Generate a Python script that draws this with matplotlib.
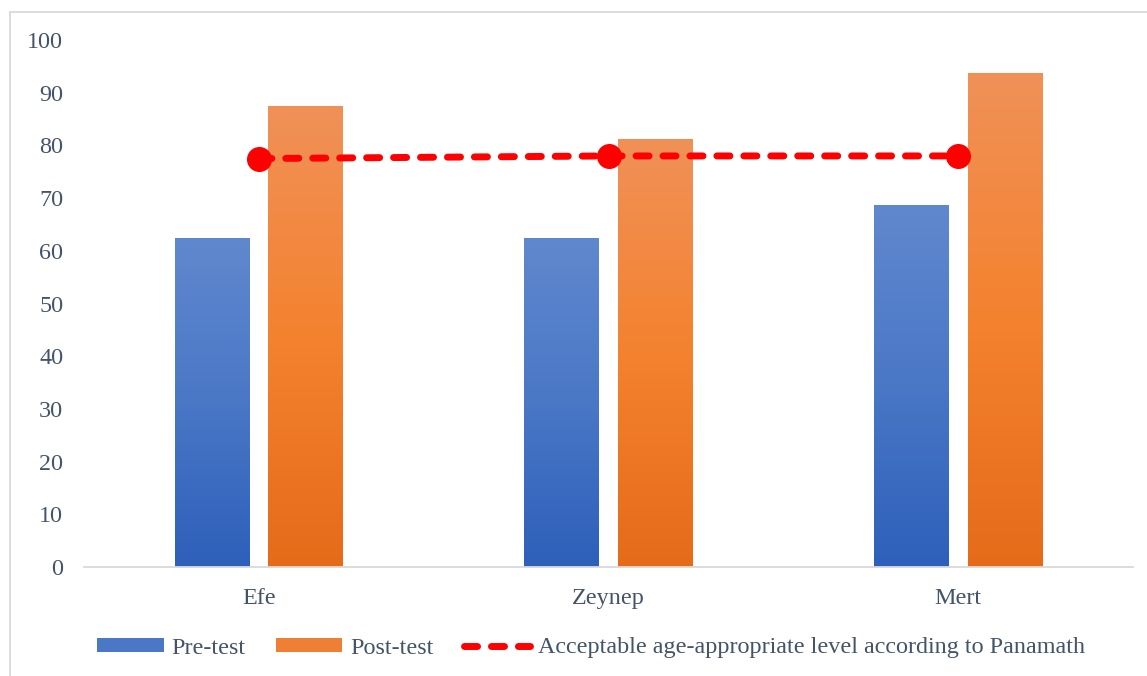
import matplotlib
matplotlib.use('Agg')
import matplotlib.pyplot as plt
import numpy as np
from matplotlib.colors import LinearSegmentedColormap
from matplotlib.lines import Line2D
from matplotlib.patches import Patch, Rectangle

# data
students = ['Efe', 'Zeynep', 'Mert']
pre_test = [62.5, 62.5, 68.75]
post_test = [87.5, 81.25, 93.75]
acceptable_level = [77.5, 78, 78]

text_col = '#44546A'
grid_col = '#D9D9D9'

plt.rcParams['font.family'] = ['Liberation Serif', 'DejaVu Serif']
plt.rcParams['font.size'] = 17.4
plt.rcParams['lines.scale_dashes'] = False

W, H = 1147, 676
fig = plt.figure(figsize=(W / 100, H / 100), dpi=100)
ax = fig.add_axes([84 / W, 109 / H, (1133 - 84) / W, 527 / H])

# outer chart frame
fig.patches.append(Rectangle((10 / W, -0.05), 1.2, (H - 12) / H + 0.05, transform=fig.transFigure,
                             fill=False, edgecolor=grid_col, lw=1.3))

blue_cmap = LinearSegmentedColormap.from_list('blue', ['#2D60BA', '#4A77C6', '#6088CE'])
orange_cmap = LinearSegmentedColormap.from_list('orange', ['#E56B19', '#F4822F', '#F09158'])

x = np.arange(len(students))
w = 0.214
off = 0.134

bars_pre = ax.bar(x - off, pre_test, w, color='none', edgecolor='none')
bars_post = ax.bar(x + off, post_test, w, color='none', edgecolor='none')

grad = np.linspace(0, 1, 256).reshape(-1, 1)
for bars, cmap in [(bars_pre, blue_cmap), (bars_post, orange_cmap)]:
    for rect in bars:
        x0, h, bw = rect.get_x(), rect.get_height(), rect.get_width()
        im = ax.imshow(grad, extent=[x0, x0 + bw, 0, h], origin='lower', aspect='auto',
                       cmap=cmap, zorder=2, interpolation='bilinear')
        im.set_clip_path(rect)

ax.plot(x, acceptable_level, color='#FF0000', lw=5, ls=(0, (9.4, 10)),
        dash_capstyle='round', marker='o', ms=17, zorder=3)

ax.set_xlim(-0.5, 2.5)
ax.set_ylim(0, 100)
ax.set_yticks(range(0, 101, 10))
ax.set_xticks(x)
ax.set_xticklabels(students)
ax.tick_params(axis='both', length=0, colors=text_col, labelsize=17.4)
ax.tick_params(axis='y', pad=15)
ax.tick_params(axis='x', pad=15)
for s in ['top', 'right', 'left']:
    ax.spines[s].set_visible(False)
ax.spines['bottom'].set_color(grid_col)
ax.spines['bottom'].set_linewidth(1.3)

handles = [
    Patch(facecolor='#4A77C6', edgecolor='none'),
    Patch(facecolor='#F07F36', edgecolor='none'),
    Line2D([], [], color='#FF0000', lw=5, ls=(0, (9.4, 10)), dash_capstyle='round'),
]
labels = ['Pre-test', 'Post-test', 'Acceptable age-appropriate level according to Panamath']
leg = fig.legend(handles, labels, loc='center', bbox_to_anchor=(591 / W, 28 / H), ncol=3,
                 frameon=False, handlelength=2.75, handleheight=0.5, handletextpad=0.32,
                 columnspacing=1.25, fontsize=17.4)
for t in leg.get_texts():
    t.set_color(text_col)

fig.savefig('out.png', dpi=100)
